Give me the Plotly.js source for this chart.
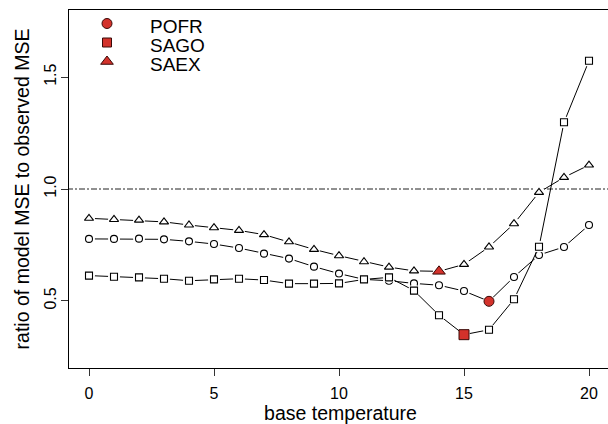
<!DOCTYPE html>
<html>
<head>
<meta charset="utf-8">
<script src="https://cdn.plot.ly/plotly-3.0.1.min.js"></script>
<style>
html, body { margin: 0; padding: 0; background: #fff; overflow: hidden; width: 608px; height: 424px; }
#chart { width: 612px; height: 424px; }
</style>
</head>
<body>
<div id="chart"></div>
<script>
// base temperature values (x axis)
const baseTemp = [0,1,2,3,4,5,6,7,8,9,10,11,12,13,14,15,16,17,18,19,20];
// ratio of model MSE to observed MSE, per species
const pofr = [0.777,0.777,0.778,0.775,0.766,0.754,0.736,0.711,0.689,0.653,0.622,0.596,0.590,0.578,0.570,0.544,0.498,0.607,0.705,0.741,0.839];
const sago = [0.613,0.608,0.605,0.599,0.590,0.596,0.599,0.593,0.577,0.577,0.578,0.596,0.605,0.546,0.436,0.349,0.371,0.507,0.742,1.298,1.573];
const saex = [0.869,0.864,0.861,0.853,0.839,0.827,0.815,0.796,0.764,0.730,0.702,0.675,0.651,0.634,0.632,0.663,0.741,0.845,0.985,1.052,1.107];
const speciesNames = ["POFR", "SAGO", "SAEX"];
const xTicks = [0, 5, 10, 15, 20];
const yTicks = [0.5, 1.0, 1.5];
const yTickText = ["0.5", "1.0", "1.5"];
const referenceRatio = 1.0;

const series = [pofr, sago, saex];
const fillSymbols = ["circle", "square", "triangle-up"];
const red = "#d3322b";

function argmin(arr) {
  let k = 0;
  for (let i = 1; i < arr.length; i++) if (arr[i] < arr[k]) k = i;
  return k;
}

const traces = [];
// reference line at ratio = 1
traces.push({
  x: [baseTemp[0] - 10, baseTemp[baseTemp.length - 1] + 10],
  y: [referenceRatio, referenceRatio],
  mode: "lines",
  line: { color: "#222", width: 1, dash: "6px,2px,2px,2px" },
  showlegend: false, hoverinfo: "skip"
});
series.forEach((s, i) => {
  // connecting line
  traces.push({ x: baseTemp, y: s, mode: "lines", line: { color: "#000", width: 1 }, showlegend: false });
  // white halo to leave a gap between line and points (type "b" look)
  traces.push({ x: baseTemp, y: s, mode: "markers", marker: { symbol: "circle", size: 12, color: "#fff", line: { width: 0 } }, showlegend: false });
  // open points
  traces.push({
    x: baseTemp, y: s, mode: "markers",
    marker: { symbol: fillSymbols[i], size: i === 2 ? 8 : 7, color: "#fff", line: { color: "#000", width: 1.1 } },
    showlegend: false
  });
});
series.forEach((s, i) => {
  const k = argmin(s);
  traces.push({
    x: [baseTemp[k]], y: [s[k]], mode: "markers", name: speciesNames[i],
    marker: { symbol: fillSymbols[i], size: i === 2 ? 11 : 10, color: red, opacity: 1, line: { color: "#3a0a08", width: 1 } },
    showlegend: false
  });
});

// legend keys drawn on a hidden overlay axis measured in pixels from the plot's top-left
const legendKeyX = 38, legendTextX = 79, legendTop = 13.5, legendRow = 19;
traces.push({
  x: speciesNames.map(() => legendKeyX),
  y: speciesNames.map((_, i) => legendTop + i * legendRow),
  xaxis: "x2", yaxis: "y2", mode: "markers",
  marker: { symbol: fillSymbols, size: [10, 9, 11], color: red, opacity: 1, line: { color: "#3a0a08", width: 1 } },
  showlegend: false, hoverinfo: "skip"
});
const annotations = speciesNames.map((n, i) => ({
  text: n, xref: "x2", yref: "y2", x: legendTextX, y: legendTop + i * legendRow + 2.5,
  xanchor: "left", yanchor: "middle", showarrow: false,
  font: { size: 19, color: "#000" }
}));

const layout = {
  width: 612, height: 424,
  margin: { l: 69, r: 0, t: 10, b: 56 },
  paper_bgcolor: "#fff", plot_bgcolor: "#fff",
  font: { family: "Liberation Sans, Arial, sans-serif", color: "#000", size: 16 },
  showlegend: false,
  annotations: annotations,
  xaxis: {
    range: [-0.8, 20.92],
    tickvals: xTicks, ticktext: xTicks.map(String),
    ticks: "outside", ticklen: 7, tickcolor: "#333", tickwidth: 1,
    showline: true, linecolor: "#000", linewidth: 1, mirror: true,
    showgrid: false, zeroline: false,
    tickfont: { size: 16 }, ticklabelstandoff: 4,
    title: { text: "base temperature", font: { size: 19.5 }, standoff: 0 }
  },
  yaxis: {
    range: [0.2, 1.8],
    tickvals: yTicks, ticktext: yTickText, tickangle: -90,
    ticks: "outside", ticklen: 7, tickcolor: "#333", tickwidth: 1,
    showline: true, linecolor: "#000", linewidth: 1, mirror: true,
    showgrid: false, zeroline: false,
    tickfont: { size: 16 }, ticklabelstandoff: -1,
    title: { text: "ratio of model MSE to observed MSE", font: { size: 19.5 }, standoff: 6 }
  },
  xaxis2: { overlaying: "x", anchor: "y2", range: [0, 543], visible: false, showgrid: false, zeroline: false },
  yaxis2: { overlaying: "y", anchor: "x2", range: [358, 0], visible: false, showgrid: false, zeroline: false }
};

Plotly.newPlot("chart", traces, layout, { staticPlot: true, displayModeBar: false });
</script>
</body>
</html>
